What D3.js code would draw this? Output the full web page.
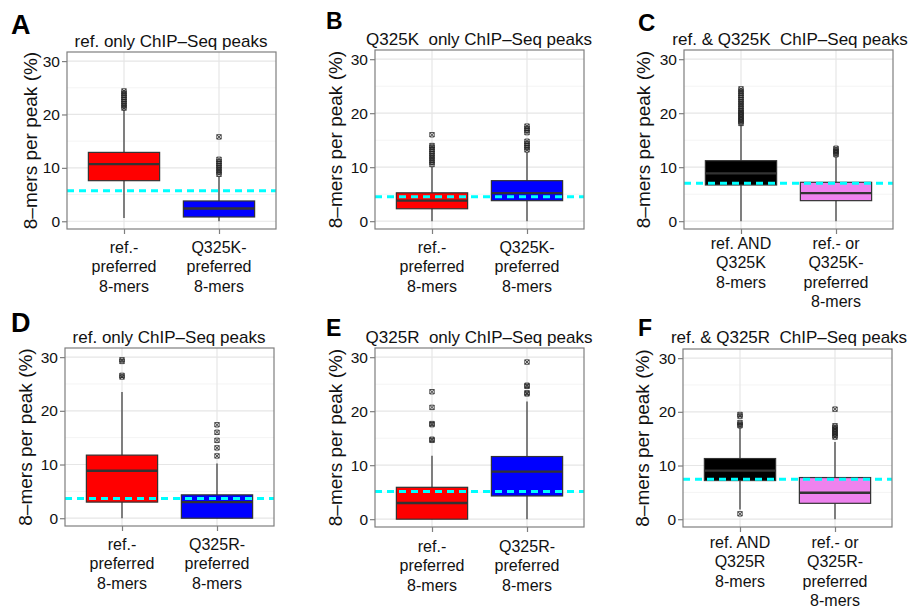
<!DOCTYPE html>
<html>
<head>
<meta charset="utf-8">
<script src="https://cdn.jsdelivr.net/npm/d3@7"></script>
<style>
  body { margin: 0; background: #fff; }
  svg text { font-family: "Liberation Sans", Arial, Helvetica, sans-serif; }
</style>
</head>
<body>
<script>
// panel letters, titles and x categories
const letters = ["A", "B", "C", "D", "E", "F"];
const titles = [
  "ref. only ChIP\u2013Seq peaks",
  "Q325K\u00a0 only ChIP\u2013Seq peaks",
  "ref. & Q325K\u00a0 ChIP\u2013Seq peaks",
  "ref. only ChIP\u2013Seq peaks",
  "Q325R\u00a0 only ChIP\u2013Seq peaks",
  "ref. & Q325R\u00a0 ChIP\u2013Seq peaks"
];
const categories = [
  [["ref.-", "preferred", "8-mers"], ["Q325K-", "preferred", "8-mers"]],
  [["ref.-", "preferred", "8-mers"], ["Q325K-", "preferred", "8-mers"]],
  [["ref. AND", "Q325K", "8-mers"], ["ref.- or", "Q325K-", "preferred", "8-mers"]],
  [["ref.-", "preferred", "8-mers"], ["Q325R-", "preferred", "8-mers"]],
  [["ref.-", "preferred", "8-mers"], ["Q325R-", "preferred", "8-mers"]],
  [["ref. AND", "Q325R", "8-mers"], ["ref.- or", "Q325R-", "preferred", "8-mers"]]
];

// box statistics (8-mers per peak, %)
const lowerWhisker  = [[0.6, 0], [0, 0], [0, 0], [0, 0], [0, 0], [1.8, 0]];
const lowerQuartile = [[7.6, 0.8], [2.3, 3.8], [6.7, 3.8], [3.0, 0], [0, 4.3], [7.2, 2.96]];
const medians       = [[10.7, 2.4], [3.8, 5.2], [8.85, 5.2], [8.85, 3.0], [3.0, 8.8], [9.05, 4.93]];
const upperQuartile = [[12.9, 3.8], [5.25, 7.5], [11.2, 7.2], [11.75, 4.35], [5.9, 11.6], [11.3, 7.76]];
const upperWhisker  = [[21.0, 8.4], [10.1, 12.8], [17.9, 12.0], [23.5, 10.2], [11.75, 21.8], [17.2, 14.4]];
const outliers = [
  [[21.2, 21.6, 22.0, 22.4, 22.8, 23.2, 23.6, 24.0, 24.4],
   [8.8, 9.2, 9.6, 10.0, 10.4, 10.8, 11.2, 11.6, 15.8]],
  [[10.5, 10.9, 11.3, 11.7, 12.1, 12.5, 12.9, 13.3, 13.7, 14.0, 16.0],
   [13.2, 13.6, 14.0, 14.4, 14.8, 16.4, 16.8, 17.2, 17.6]],
  [[18.1, 18.4, 18.7, 19.0, 19.3, 19.6, 19.9, 20.2, 20.5, 20.9, 21.3, 21.7, 22.1, 22.5, 22.9, 23.3, 23.7, 24.1, 24.5],
   [12.3, 12.6, 12.9, 13.2, 13.5]],
  [[26.3, 26.6, 29.2, 29.5],
   [11.6, 13.1, 14.5, 16.0, 17.4]],
  [[14.6, 14.8, 17.5, 17.7, 20.7, 23.6],
   [23.2, 23.4, 24.6, 24.8, 29.1]],
  [[1.0, 17.4, 17.7, 18.0, 19.2, 19.5],
   [15.3, 15.6, 15.9, 16.2, 16.5, 16.8, 17.1, 17.4, 20.5]]
];
// cyan dashed reference level per panel
const referenceLevel = [5.7, 4.5, 7.0, 3.65, 5.13, 7.45];
const yTicks = [0, 10, 20, 30];
const yMinor = [5, 15, 25];
const yDomain = [-1.45, 31.7];

// styling / layout
const fills = [
  ["#ff0000", "#0000ff"], ["#ff0000", "#0000ff"], ["#000000", "#ee82ee"],
  ["#ff0000", "#0000ff"], ["#ff0000", "#0000ff"], ["#000000", "#ee82ee"]
];
const panels = [
  {x: 67,  y: 52,  w: 209, h: 177, lx: 11,  ly: 34,  ls: 27, gap: 24, tx: 171, ty: 47, yt: 30},
  {x: 375, y: 50,  w: 209, h: 179, lx: 326, ly: 29,  ls: 23, gap: 24, tx: 479, ty: 45, yt: 33},
  {x: 684, y: 50,  w: 209, h: 179, lx: 638, ly: 31,  ls: 24, gap: 20, tx: 790, ty: 45, yt: 34},
  {x: 65,  y: 348, w: 209, h: 178, lx: 11,  ly: 332, ls: 27, gap: 24, tx: 169, ty: 343, yt: 33},
  {x: 375, y: 348, w: 209, h: 179, lx: 326, ly: 336, ls: 23, gap: 25, tx: 479, ty: 343, yt: 33},
  {x: 683, y: 349, w: 209, h: 178, lx: 638, ly: 336, ls: 23, gap: 21, tx: 789, ty: 343, yt: 34}
];

const svg = d3.select("body").append("svg")
  .attr("width", 909)
  .attr("height", 607);

panels.forEach((p, i) => {
  const g = svg.append("g").attr("transform", `translate(${p.x},${p.y})`);
  const y = d3.scaleLinear().domain(yDomain).range([p.h, 0]);
  const x = d3.scalePoint().domain([0, 1]).range([0, p.w]).padding(0.6);
  const bw = x.step() * 0.75;

  // grid
  g.selectAll(".minor").data(yMinor).enter().append("line")
    .attr("x1", 0).attr("x2", p.w)
    .attr("y1", d => y(d)).attr("y2", d => y(d))
    .attr("stroke", "#f4f4f4").attr("stroke-width", 1);
  g.selectAll(".major").data(yTicks).enter().append("line")
    .attr("x1", 0).attr("x2", p.w)
    .attr("y1", d => y(d)).attr("y2", d => y(d))
    .attr("stroke", "#e6e6e6").attr("stroke-width", 1.2);
  g.selectAll(".vmajor").data([0, 1]).enter().append("line")
    .attr("x1", d => x(d)).attr("x2", d => x(d))
    .attr("y1", 0).attr("y2", p.h)
    .attr("stroke", "#e6e6e6").attr("stroke-width", 1.2);

  // boxes
  [0, 1].forEach(c => {
    const cx = x(c);
    g.append("line")
      .attr("x1", cx).attr("x2", cx)
      .attr("y1", y(lowerWhisker[i][c])).attr("y2", y(upperWhisker[i][c]))
      .attr("stroke", "#333").attr("stroke-width", 1.2);
    g.append("rect")
      .attr("x", cx - bw / 2).attr("width", bw)
      .attr("y", y(upperQuartile[i][c]))
      .attr("height", y(lowerQuartile[i][c]) - y(upperQuartile[i][c]))
      .attr("fill", fills[i][c])
      .attr("stroke", "#333").attr("stroke-width", 1.2);
    g.append("line")
      .attr("x1", cx - bw / 2).attr("x2", cx + bw / 2)
      .attr("y1", y(medians[i][c])).attr("y2", y(medians[i][c]))
      .attr("stroke", "#333").attr("stroke-width", 2.4);
    const s = 2.2;
    g.selectAll(null).data(outliers[i][c]).enter().append("path")
      .attr("d", d => {
        const py = y(d);
        return `M${cx - s},${py - s}h${2 * s}v${2 * s}h${-2 * s}Z` +
               `M${cx - s},${py - s}L${cx + s},${py + s}M${cx + s},${py - s}L${cx - s},${py + s}`;
      })
      .attr("fill", "none")
      .attr("stroke", "#222").attr("stroke-width", 0.8);
  });

  // cyan reference line
  g.append("line")
    .attr("x1", 0).attr("x2", p.w)
    .attr("y1", y(referenceLevel[i])).attr("y2", y(referenceLevel[i]))
    .attr("stroke", "#00ffff").attr("stroke-width", 3)
    .attr("stroke-dasharray", "7,5");

  // panel border
  g.append("rect")
    .attr("width", p.w).attr("height", p.h)
    .attr("fill", "none").attr("stroke", "#7f7f7f").attr("stroke-width", 1.2);

  // y axis
  const ya = g.append("g")
    .call(d3.axisLeft(y).tickValues(yTicks).tickSize(5).tickPadding(2));
  ya.select(".domain").remove();
  ya.selectAll(".tick line").attr("stroke", "#7f7f7f").attr("stroke-width", 1.2);
  ya.selectAll(".tick text").attr("font-size", 15.5).attr("fill", "#111")
    .attr("font-family", "Liberation Sans, Arial, sans-serif");

  // x axis ticks
  const xa = g.append("g").attr("transform", `translate(0,${p.h})`)
    .call(d3.axisBottom(x).tickSize(5).tickFormat(""));
  xa.select(".domain").remove();
  xa.selectAll(".tick line").attr("stroke", "#7f7f7f").attr("stroke-width", 1.2);

  // category labels
  [0, 1].forEach(c => {
    const t = g.append("text")
      .attr("text-anchor", "middle")
      .attr("font-size", 16)
      .attr("fill", "#111");
    categories[i][c].forEach((line, k) => {
      t.append("tspan")
        .attr("x", x(c))
        .attr("y", p.h + p.gap + k * 19.3)
        .text(line);
    });
  });

  // y axis title
  svg.append("text")
    .attr("transform", `translate(${p.x - p.yt},${p.y + p.h / 2}) rotate(-90)`)
    .attr("text-anchor", "middle")
    .attr("font-size", 19)
    .attr("fill", "#111")
    .text("8\u2013mers per peak (%)");

  // title
  svg.append("text")
    .attr("x", p.tx).attr("y", p.ty)
    .attr("text-anchor", "middle")
    .attr("font-size", 17)
    .attr("fill", "#111")
    .text(titles[i]);

  // panel letter
  svg.append("text")
    .attr("x", p.lx).attr("y", p.ly)
    .attr("font-size", p.ls)
    .attr("font-weight", "bold")
    .attr("fill", "#000")
    .text(letters[i]);
});
</script>
</body>
</html>
